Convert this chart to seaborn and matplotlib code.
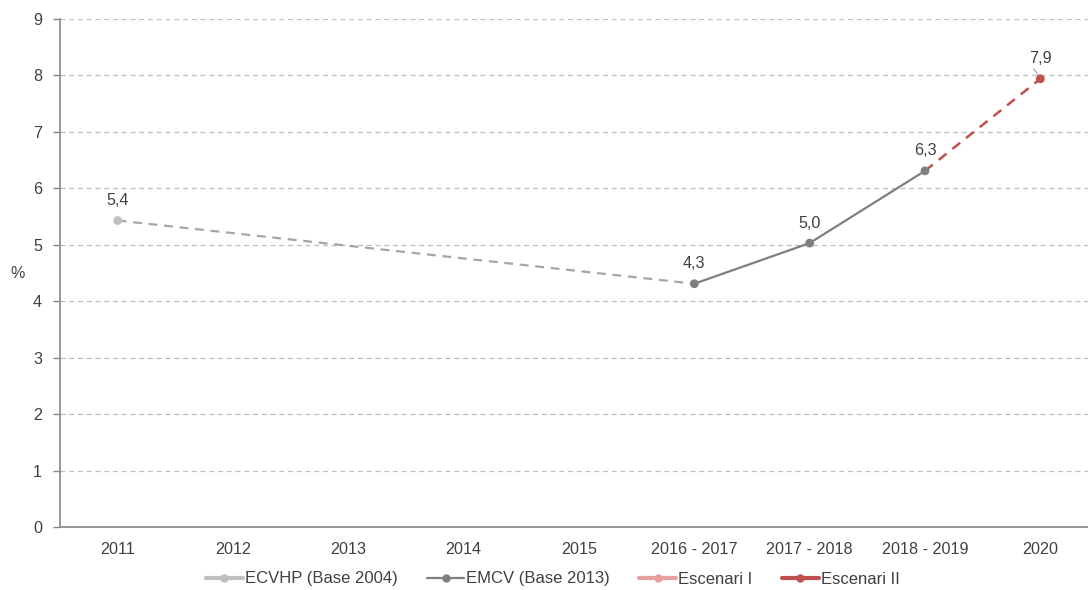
import numpy as np
import pandas as pd
import matplotlib
matplotlib.use("Agg")
import matplotlib.pyplot as plt
from matplotlib.lines import Line2D
import seaborn as sns

categories = ["2011", "2012", "2013", "2014", "2015", "2016 - 2017", "2017 - 2018", "2018 - 2019", "2020"]
ecvhp = [5.43, np.nan, np.nan, np.nan, np.nan, np.nan, np.nan, np.nan, np.nan]
emcv = [np.nan, np.nan, np.nan, np.nan, np.nan, 4.31, 5.03, 6.31, np.nan]
escenari_1 = [np.nan, np.nan, np.nan, np.nan, np.nan, np.nan, np.nan, np.nan, np.nan]
escenari_2 = [np.nan, np.nan, np.nan, np.nan, np.nan, np.nan, np.nan, 6.31, 7.94]
labels = ["5,4", "4,3", "5,0", "6,3", "7,9"]

sns.set_theme(style="white")
plt.rcParams["font.family"] = ["Liberation Sans", "DejaVu Sans"]

C_ECVHP = "#BFBFBF"
C_LINK = "#A6A6A6"
C_EMCV = "#7F7F7F"
C_E1 = "#E6A09E"
C_E2 = "#C0504D"
TXT = "#404040"
FS = 11.6

fig = plt.figure(figsize=(10.88, 5.9), dpi=100)
ax = fig.add_axes([60 / 1088, 1 - 527 / 590, 1038 / 1088, 508 / 590])

x = np.arange(len(categories))
df = pd.DataFrame({"x": x, "ecvhp": ecvhp, "emcv": emcv, "e1": escenari_1, "e2": escenari_2})

# dashed link between ECVHP 2011 and EMCV 2016-2017
i0 = 0
i1 = int(np.nanargmin(np.where(np.isnan(df["emcv"]), np.inf, df["x"])))
link = pd.DataFrame({"x": [df["x"][i0], df["x"][i1]], "y": [df["ecvhp"][i0], df["emcv"][i1]]})
sns.lineplot(data=link, x="x", y="y", ax=ax, color=C_LINK, linewidth=1.6, dashes=[(4, 3)], style=[0, 0], legend=False)

e2 = df.dropna(subset=["e2"])
sns.lineplot(data=e2, x="x", y="e2", ax=ax, color=C_E2, linewidth=1.8, dashes=[(4, 3)], style=[0] * len(e2), legend=False)

em = df.dropna(subset=["emcv"])
sns.lineplot(data=em, x="x", y="emcv", ax=ax, color=C_EMCV, linewidth=1.6, legend=False)

sns.scatterplot(data=df.dropna(subset=["ecvhp"]), x="x", y="ecvhp", ax=ax, color=C_ECVHP, s=40, edgecolor="none", zorder=5)
sns.scatterplot(data=em, x="x", y="emcv", ax=ax, color=C_EMCV, s=40, edgecolor="none", zorder=5)
e2pt = df.iloc[[len(df) - 1]]
sns.scatterplot(data=e2pt, x="x", y="e2", ax=ax, color=C_E2, s=40, edgecolor="none", zorder=5)

# value labels
pts = [(0, ecvhp[0]), (5, emcv[5]), (6, emcv[6]), (7, emcv[7]), (8, escenari_2[8])]
for (px, py), lab in zip(pts, labels):
    ax.annotate(lab, (px, py), xytext=(0, 9), textcoords="offset points", ha="center", va="bottom",
                fontsize=FS, color=TXT)
# small leader line at 2020
ax.plot([7.94, 8.0], [8.12, 7.96], color="#A6A6A6", linewidth=0.8)

ax.set_xlim(-0.5, len(categories) - 0.5)
ax.set_ylim(0, 9)
ax.set_yticks(range(0, 10))
ax.set_xticks(x)
ax.set_xticklabels(categories)
ax.set_xticks(np.arange(-0.5, len(categories) + 0.5, 1), minor=True)
ax.tick_params(axis="x", which="major", length=0, pad=11, labelsize=FS, labelcolor=TXT)
ax.tick_params(axis="x", which="minor", length=5, width=1, color="#868686", direction="out")
ax.tick_params(axis="y", which="major", length=5, width=1, color="#868686", direction="out", labelsize=FS,
               labelcolor=TXT, pad=8, left=True)
ax.set_xlabel("")
ax.set_ylabel("%", rotation=0, fontsize=FS, color=TXT)
ax.yaxis.set_label_coords(-0.041, 0.485)

ax.grid(axis="y", color="#BFBFBF", linestyle=(0, (4, 3)), linewidth=0.9)
ax.grid(axis="x", visible=False)
ax.set_axisbelow(True)
for s in ["top", "right"]:
    ax.spines[s].set_visible(False)
for s in ["left", "bottom"]:
    ax.spines[s].set_color("#868686")
    ax.spines[s].set_linewidth(1.2)

handles = [
    Line2D([], [], color=C_ECVHP, lw=3, marker="o", ms=5),
    Line2D([], [], color=C_EMCV, lw=1.6, marker="o", ms=5),
    Line2D([], [], color=C_E1, lw=3, marker="o", ms=5),
    Line2D([], [], color=C_E2, lw=3, marker="o", ms=5),
]
names = ["ECVHP (Base 2004)", "EMCV (Base 2013)", "Escenari I", "Escenari II"]
fig.legend(handles, names, loc="center", bbox_to_anchor=(553 / 1088, 1 - 579 / 590), ncol=4, frameon=False,
           fontsize=12, handlelength=2.2, handletextpad=0.15, columnspacing=1.75, labelcolor=TXT)

fig.savefig("out.png", dpi=100)
